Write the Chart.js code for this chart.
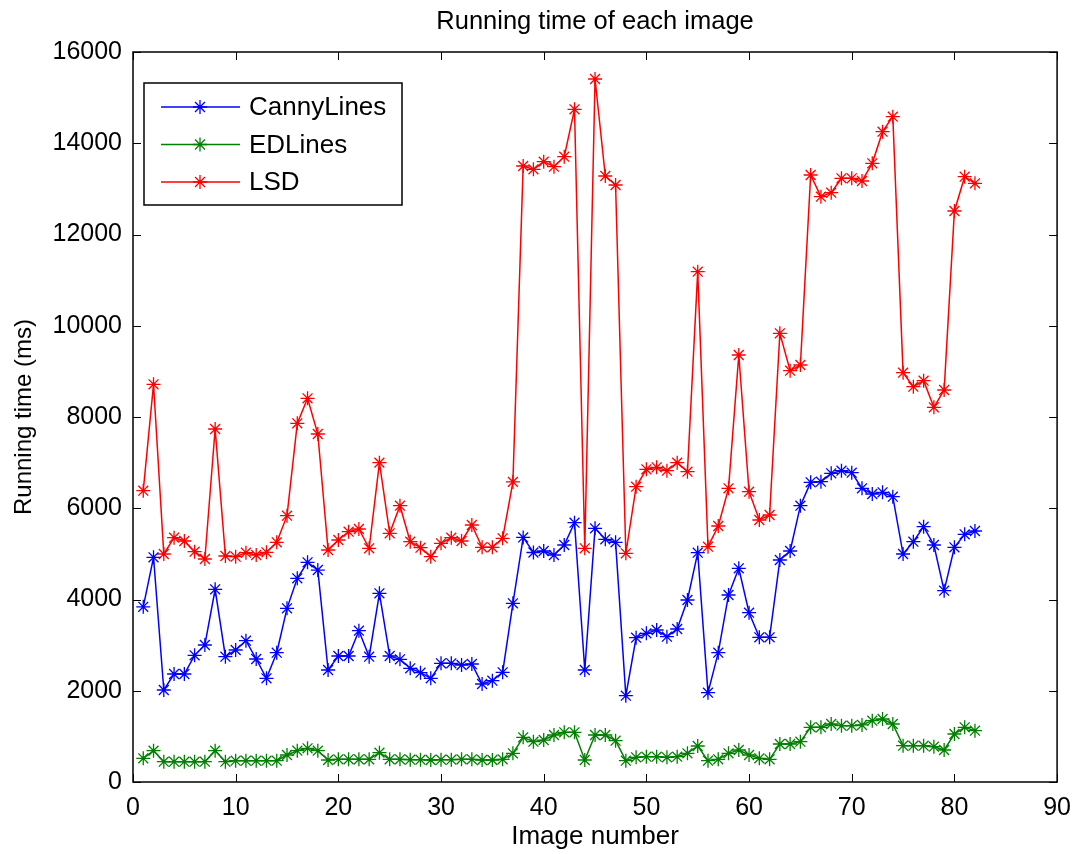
<!DOCTYPE html>
<html>
<head>
<meta charset="utf-8">
<title>Running time of each image</title>
<script src="https://cdn.jsdelivr.net/npm/chart.js@4.4.0/dist/chart.umd.min.js"></script>
<style>
  body { margin: 0; background: #fff; }
  #myChart { display: block; }
</style>
</head>
<body>
<canvas id="myChart" width="1082" height="854"></canvas>
<script>
var imageNumbers = [1, 2, 3, 4, 5, 6, 7, 8, 9, 10, 11, 12, 13, 14, 15, 16, 17, 18, 19, 20,
  21, 22, 23, 24, 25, 26, 27, 28, 29, 30, 31, 32, 33, 34, 35, 36, 37, 38, 39, 40,
  41, 42, 43, 44, 45, 46, 47, 48, 49, 50, 51, 52, 53, 54, 55, 56, 57, 58, 59, 60,
  61, 62, 63, 64, 65, 66, 67, 68, 69, 70, 71, 72, 73, 74, 75, 76, 77, 78, 79, 80,
  81, 82]

var cannyLines = [3840, 4925, 2016, 2367, 2367, 2776, 3003, 4223, 2747, 2893,
  3097, 2696, 2272, 2834, 3806, 4464, 4815, 4646, 2455, 2762,
  2762, 3316, 2747, 4135, 2762, 2689, 2492, 2396, 2272, 2601,
  2601, 2564, 2586, 2148, 2221, 2404, 3916, 5360, 5030, 5063,
  4975, 5195, 5684, 2455, 5560, 5319, 5253, 1892, 3164, 3258,
  3331, 3185, 3353, 3989, 5026, 1958, 2834, 4099, 4683, 3711,
  3171, 3171, 4866, 5063, 6056, 6568, 6582, 6765, 6824, 6780,
  6436, 6312, 6349, 6253, 4997, 5267, 5596, 5195, 4194, 5143,
  5428, 5501]

var edLines = [519, 686, 445, 445, 445, 445, 445, 686, 445, 467,
  467, 467, 467, 467, 592, 686, 738, 686, 482, 497,
  497, 497, 497, 643, 497, 497, 490, 490, 482, 490,
  490, 497, 497, 482, 482, 497, 628, 979, 884, 920,
  1030, 1088, 1088, 482, 1030, 1030, 906, 467, 541, 555,
  555, 541, 555, 628, 789, 467, 497, 628, 701, 592,
  519, 497, 833, 833, 884, 1199, 1199, 1271, 1235, 1235,
  1250, 1344, 1381, 1271, 796, 796, 796, 774, 701, 1052,
  1199, 1125]

var lsd = [6385, 8717, 4997, 5355, 5282, 5048, 4888, 7737, 4953, 4939,
  5026, 4975, 5034, 5253, 5837, 7861, 8409, 7627, 5085, 5304,
  5486, 5545, 5121, 7000, 5450, 6056, 5267, 5135, 4939, 5231,
  5355, 5282, 5633, 5143, 5143, 5340, 6578, 13501, 13428, 13596,
  13486, 13705, 14743, 5121, 15408, 13282, 13085, 5012, 6473, 6854,
  6897, 6824, 7000, 6802, 11186, 5158, 5611, 6436, 9359, 6363,
  5742, 5852, 9834, 9015, 9140, 13304, 12829, 12916, 13231, 13231,
  13173, 13560, 14254, 14583, 8971, 8665, 8796, 8212, 8592, 12515,
  13267, 13121]

var xTicks = [0, 10, 20, 30, 40, 50, 60, 70, 80, 90]
var yTicks = [0, 2000, 4000, 6000, 8000, 10000, 12000, 14000, 16000]

var fontFamily = '"Liberation Sans", Arial, Helvetica, sans-serif'

function toPoints(values) {
  return values.map((v, i) => ({ x: imageNumbers[i], y: v }))
}

function series(label, values, color) {
  return {
    label: label,
    data: toPoints(values),
    borderColor: color,
    backgroundColor: color,
    borderWidth: 1.5,
    pointStyle: 'star',
    pointRadius: 7,
    pointBorderWidth: 1.3,
    pointBorderColor: color,
    fill: false,
    tension: 0
  }
}

function drawStar(ctx, x, y, r) {
  var d = r * Math.SQRT1_2
  ctx.beginPath()
  ctx.moveTo(x - r, y); ctx.lineTo(x + r, y)
  ctx.moveTo(x, y - r); ctx.lineTo(x, y + r)
  ctx.moveTo(x - d, y - d); ctx.lineTo(x + d, y + d)
  ctx.moveTo(x - d, y + d); ctx.lineTo(x + d, y - d)
  ctx.stroke()
}

// box round the plot, inward ticks on all four sides, legend in the corner
var frame = {
  id: 'frame',
  afterDatasetsDraw(chart) {
    var ctx = chart.ctx
    var a = chart.chartArea
    var xs = chart.scales.x
    var ys = chart.scales.y
    var tl = 8
    ctx.save()
    ctx.strokeStyle = '#000'
    ctx.lineWidth = 1.5
    ctx.strokeRect(a.left, a.top, a.right - a.left, a.bottom - a.top)
    ctx.lineWidth = 1
    ctx.beginPath()
    xTicks.forEach(t => {
      var px = Math.round(xs.getPixelForValue(t)) + 0.5
      ctx.moveTo(px, a.bottom); ctx.lineTo(px, a.bottom - tl)
      ctx.moveTo(px, a.top); ctx.lineTo(px, a.top + tl)
    })
    yTicks.forEach(t => {
      var py = Math.round(ys.getPixelForValue(t)) + 0.5
      ctx.moveTo(a.left, py); ctx.lineTo(a.left + tl, py)
      ctx.moveTo(a.right, py); ctx.lineTo(a.right - tl, py)
    })
    ctx.stroke()

    // legend
    var bx = a.left + 11, by = a.top + 31, bw = 258, bh = 122
    ctx.fillStyle = '#fff'
    ctx.fillRect(bx, by, bw, bh)
    ctx.strokeStyle = '#000'
    ctx.lineWidth = 1.5
    ctx.strokeRect(bx, by, bw, bh)
    ctx.font = '26px ' + fontFamily
    ctx.textBaseline = 'middle'
    chart.data.datasets.forEach((ds, i) => {
      var ry = by + 24 + i * 37.5
      ctx.strokeStyle = ds.borderColor
      ctx.lineWidth = 1.5
      ctx.beginPath()
      ctx.moveTo(bx + 17, ry); ctx.lineTo(bx + 96, ry)
      ctx.stroke()
      ctx.lineWidth = 1.3
      drawStar(ctx, bx + 56, ry, 7)
      ctx.fillStyle = '#000'
      ctx.fillText(ds.label, bx + 105, ry + 1)
    })
    ctx.restore()
  }
}

var ctx = document.getElementById('myChart').getContext('2d')
var chart = new Chart(ctx, {
  type: 'line',
  data: {
    datasets: [
      series('CannyLines', cannyLines, '#0000ff'),
      series('EDLines', edLines, '#008000'),
      series('LSD', lsd, '#ff0000')
    ]
  },
  options: {
    responsive: false,
    animation: false,
    devicePixelRatio: 1,
    layout: { padding: { left: 0, right: 24, top: 0, bottom: 0 } },
    plugins: {
      legend: { display: false },
      tooltip: { enabled: false },
      title: {
        display: true,
        fullSize: false,
        text: 'Running time of each image',
        color: '#000',
        font: { family: fontFamily, size: 25.5, weight: 'normal', lineHeight: 1.2 },
        padding: { top: 7, bottom: 14.4 }
      }
    },
    scales: {
      x: {
        type: 'linear',
        min: 0,
        max: 90,
        afterFit: (scale) => { scale.height = 72 },
        afterBuildTicks: (scale) => { scale.ticks = xTicks.map(v => ({ value: v })) },
        grid: { display: false, drawTicks: false },
        border: { display: false },
        ticks: {
          color: '#000',
          padding: 11,
          maxRotation: 0,
          font: { family: fontFamily, size: 25 }
        },
        title: {
          display: true,
          text: 'Image number',
          color: '#000',
          font: { family: fontFamily, size: 26, lineHeight: 1.2 },
          padding: { top: 0, bottom: 2 }
        }
      },
      y: {
        type: 'linear',
        min: 0,
        max: 16000,
        afterFit: (scale) => { scale.width = 133 },
        afterBuildTicks: (scale) => { scale.ticks = yTicks.map(v => ({ value: v })) },
        grid: { display: false, drawTicks: false },
        border: { display: false },
        ticks: {
          color: '#000',
          padding: 11,
          font: { family: fontFamily, size: 25 },
          callback: (v) => String(v)
        },
        title: {
          display: true,
          text: 'Running time (ms)',
          color: '#000',
          font: { family: fontFamily, size: 24, lineHeight: 1.2 },
          padding: { top: 10, bottom: 0 }
        }
      }
    }
  },
  plugins: [frame]
})
</script>
</body>
</html>
